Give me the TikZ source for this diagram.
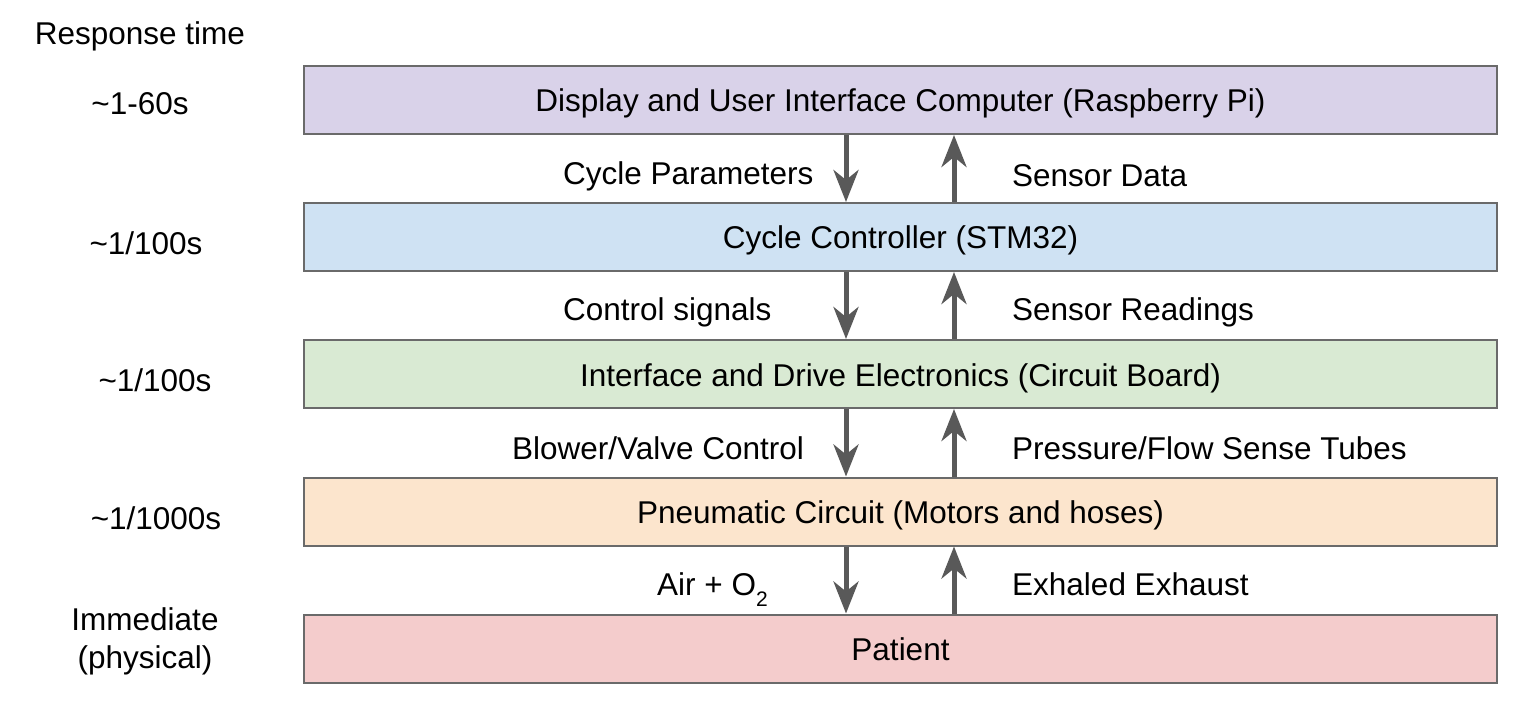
\documentclass[tikz,border=0pt]{standalone}
\usepackage{fontspec}
\setmainfont{Liberation Sans}
\usetikzlibrary{arrows.meta}
\definecolor{layerline}{HTML}{6A6A6A}
\definecolor{flowgray}{HTML}{595959}
\definecolor{fillpurple}{HTML}{D9D2E9}
\definecolor{fillblue}{HTML}{CFE2F3}
\definecolor{fillgreen}{HTML}{D9EAD3}
\definecolor{fillorange}{HTML}{FCE5CD}
\definecolor{fillred}{HTML}{F4CCCC}
\tikzset{
  layer/.style={draw=layerline, line width=2pt, minimum width=1193pt, minimum height=68pt,
    inner sep=0pt, text height=27pt, text depth=3pt, font=\fontsize{31.5}{38}\selectfont},
  lbl/.style={font=\fontsize{31.5}{38}\selectfont, inner sep=0pt, yshift=-3pt},
  flow/.style={draw=flowgray, line width=5pt,
    -{Stealth[length=32pt,width=25pt,inset=10pt]}}
}
\begin{document}
\begin{tikzpicture}[x=1pt,y=-1pt]
\useasboundingbox (0,0) rectangle (1524,711);
% stacked layers
\node[layer, fill=fillpurple] (ui) at (900.5,100) {Display and User Interface Computer (Raspberry Pi)};
\node[layer, fill=fillblue] (cc) at (900.5,237) {Cycle Controller (STM32)};
\node[layer, fill=fillgreen] (ide) at (900.5,374) {Interface and Drive Electronics (Circuit Board)};
\node[layer, fill=fillorange] (pn) at (900.5,511.5) {Pneumatic Circuit (Motors and hoses)};
\node[layer, fill=fillred] (pt) at (900.5,648.5) {Patient};
% downward commands and upward feedback between layers
\draw[flow] ([xshift=-54.5pt]ui.south) -- ([xshift=-54.5pt]cc.north);
\draw[flow] ([xshift=53.5pt]cc.north) -- ([xshift=53.5pt]ui.south);
\draw[flow] ([xshift=-54.5pt]cc.south) -- ([xshift=-54.5pt]ide.north);
\draw[flow] ([xshift=53.5pt]ide.north) -- ([xshift=53.5pt]cc.south);
\draw[flow] ([xshift=-54.5pt]ide.south) -- ([xshift=-54.5pt]pn.north);
\draw[flow] ([xshift=53.5pt]pn.north) -- ([xshift=53.5pt]ide.south);
\draw[flow] ([xshift=-54.5pt]pn.south) -- ([xshift=-54.5pt]pt.north);
\draw[flow] ([xshift=53.5pt]pt.north) -- ([xshift=53.5pt]pn.south);
% arrow labels
\node[lbl, anchor=west] (l1) at (563,173) {Cycle Parameters};
\node[lbl, anchor=west] (r1) at (1012,173) {Sensor Data};
\node[lbl, anchor=west] (l2) at (563,309) {Control signals};
\node[lbl, anchor=west] (r2) at (1012,309) {Sensor Readings};
\node[lbl, anchor=west] (l3) at (512,445) {Blower/Valve Control};
\node[lbl, anchor=west] (r3) at (1012,445) {Pressure/Flow Sense Tubes};
\node[lbl, anchor=west] (l4) at (657,581) {Air + O\smash{\raisebox{-11pt}{\fontsize{21}{21}\selectfont 2}}};
\node[lbl, anchor=west] (r4) at (1012,581) {Exhaled Exhaust};
% response times
\node[lbl] (rt) at (140,33) {Response time};
\node[lbl] (t1) at (140,101) {\textasciitilde1-60s};
\node[lbl] (t2) at (146,240) {\textasciitilde1/100s};
\node[lbl] (t3) at (155,377) {\textasciitilde1/100s};
\node[lbl] (t4) at (156,515) {\textasciitilde1/1000s};
\node[lbl, align=center] (t5) at (145,638) {Immediate\\(physical)};
\end{tikzpicture}
\end{document}
